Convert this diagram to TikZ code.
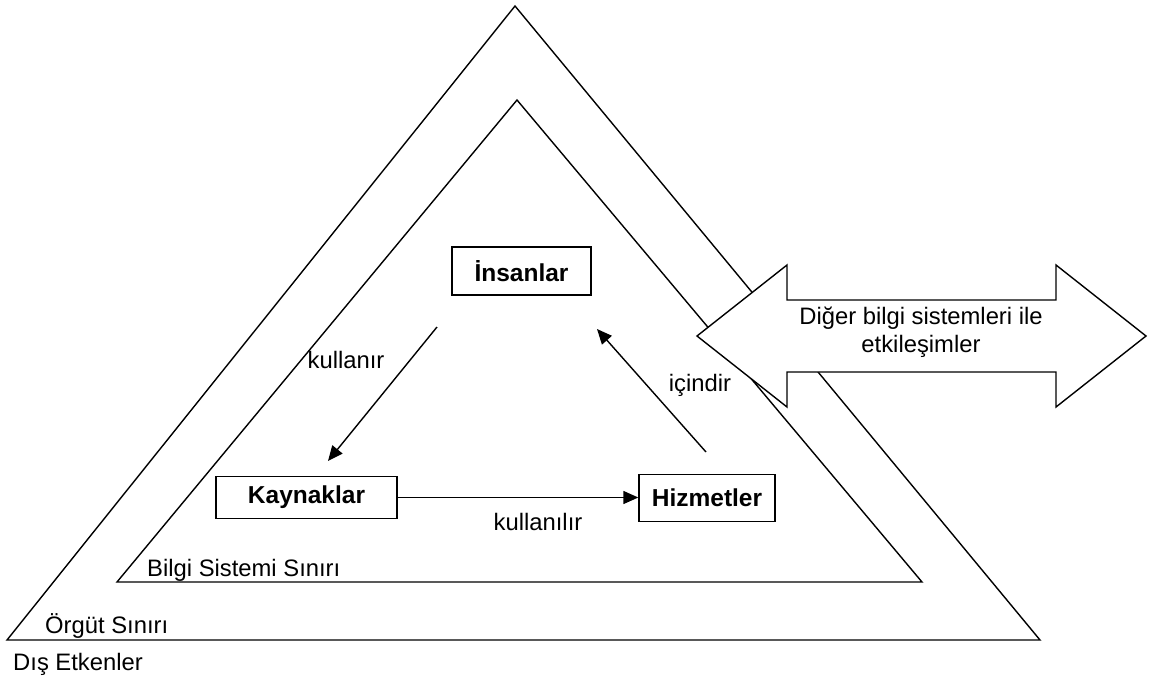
\documentclass[tikz,border=0pt]{standalone}
\usepackage{fontspec}
\setmainfont{Liberation Sans}
\usetikzlibrary{arrows.meta}
\begin{document}
\begin{tikzpicture}[x=1pt,y=-1pt,
  edge/.style={line width=1.4pt, line join=miter},
  conn/.style={line width=1.4pt, -{Triangle[length=15pt,width=13pt]}},
  entity/.style={draw, line width=1.4pt, minimum width=139pt, minimum height=48pt,
    inner sep=0pt, font=\fontsize{24.5}{28}\selectfont\bfseries},
  lbl/.style={inner sep=0pt, font=\fontsize{23.8}{28}\selectfont},
  tag/.style={lbl, anchor=west}]
\useasboundingbox (0,0) rectangle (1151,683);

% organisation boundary and information-system boundary
\draw[edge] (515,6) -- (1040,640) -- (7,640) -- cycle;
\draw[edge] (517,100) -- (922,582) -- (117,582) -- cycle;

% interaction with other systems: double-headed block arrow
\draw[edge, fill=white]
  (697,336) -- (787,265) -- (787,300) -- (1056,300) -- (1056,265)
  -- (1146,336) -- (1056,407) -- (1056,372) -- (787,372) -- (787,407) -- cycle;
\node[lbl, align=center, font=\fontsize{23.8}{28}\selectfont] (diger) at (921,332)
  {Diğer bilgi sistemleri ile\\etkileşimler};

% the three components
\node[entity] (insan) at (521.5,271) {İnsanlar};
\node[entity, minimum width=181pt, minimum height=42pt] (kaynak) at (306.5,497.5) {Kaynaklar};
\node[entity, minimum width=136pt, minimum height=47pt] (hizmet) at (707,498) {Hizmetler};

% free arrow ends
\coordinate (k1) at (437,327);
\coordinate (k2) at (328,461);
\coordinate (i1) at (706,452);
\coordinate (i2) at (597,329);

\draw[conn] (k1) -- (k2);
\draw[conn] (i1) -- (i2);
\draw[conn] (kaynak.east) -- (kaynak.east -| hizmet.west);

% relation labels
\node[lbl] (l1) at (346,360) {kullanır};
\node[lbl] (l2) at (700,385) {içindir};
\node[lbl] (l3) at (538,522) {kullanılır};

% boundary labels
\node[tag] (b1) at (147,570) {Bilgi Sistemi Sınırı};
\node[tag] (b2) at (45,626) {Örgüt Sınırı};
\node[tag] (b3) at (13,664) {Dış Etkenler};
\end{tikzpicture}
\end{document}
